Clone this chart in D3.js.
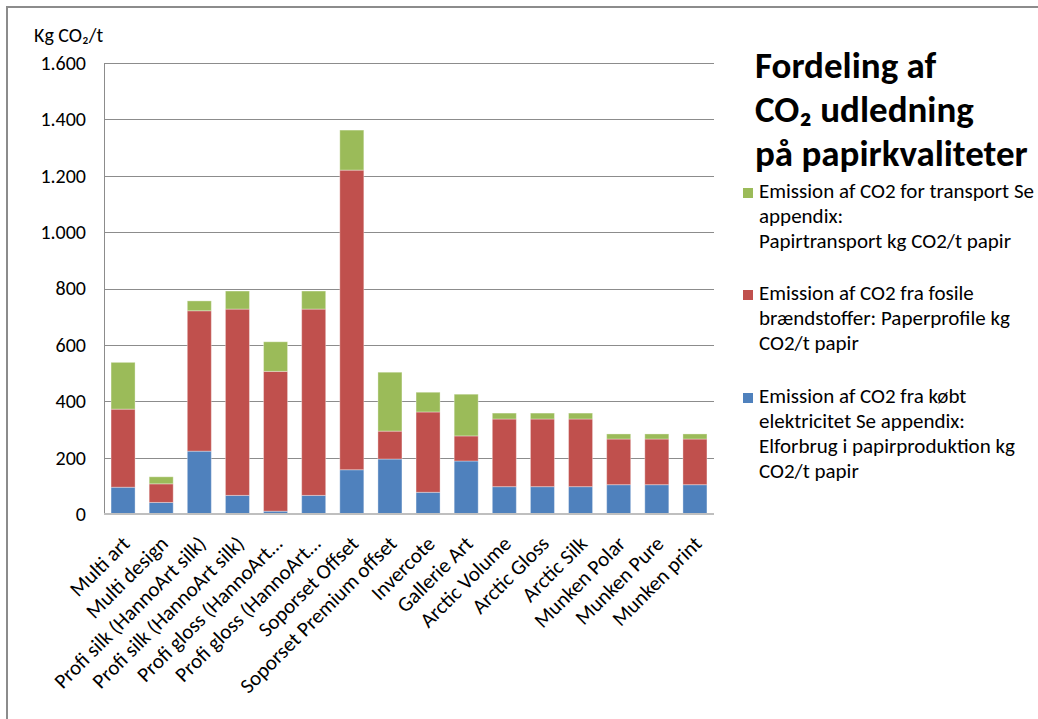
<!DOCTYPE html>
<html>
<head>
<meta charset="utf-8">
<script src="https://cdn.jsdelivr.net/npm/d3@7"></script>
<style>
  body { margin: 0; background: #fff; }
  text { font-family: Carlito, Lato, "Open Sans", sans-serif; fill: #000; }
</style>
</head>
<body>
<svg id="chart"></svg>
<script>
// categories as printed under the axis
const categories = [
    "Multi art", "Multi design", "Profi silk (HannoArt silk)", "Profi silk (HannoArt silk)",
    "Profi gloss (HannoArt\u2026", "Profi gloss (HannoArt\u2026", "Soporset Offset", "Soporset Premium offset",
    "Invercote", "Gallerie Art", "Arctic Volume", "Arctic Gloss", "Arctic Silk",
    "Munken Polar", "Munken Pure", "Munken print"
];

// kg CO2 / t paper
const elektricitet = [95, 41, 223, 66, 10, 66, 157, 195, 77, 188, 97, 97, 97, 104, 104, 104];
const fossile = [277, 66, 498, 661, 496, 661, 1063, 99, 285, 89, 240, 240, 240, 162, 162, 162];
const transport = [166, 25, 35, 64, 105, 64, 142, 209, 70, 148, 21, 21, 21, 18, 18, 18];

const seriesKeys = ["elektricitet", "fossile", "transport"];
const seriesColors = ["#4F81BD", "#C0504D", "#9BBB59"];
const legendLabels = [
    ["Emission af CO2 for transport Se", "appendix:", "Papirtransport kg CO2/t papir"],
    ["Emission af CO2 fra fosile", "brændstoffer: Paperprofile kg", "CO2/t papir"],
    ["Emission af CO2 fra købt", "elektricitet Se appendix:", "Elforbrug i papirproduktion kg", "CO2/t papir"]
];
const legendColors = ["#9BBB59", "#C0504D", "#4F81BD"];
const yTicks = [0, 200, 400, 600, 800, 1000, 1200, 1400, 1600];

const width = 1038, height = 719;
const plot = { left: 104, right: 714, top: 63, bottom: 514 };

const rows = categories.map((c, i) => ({
    idx: i, cat: c,
    elektricitet: elektricitet[i], fossile: fossile[i], transport: transport[i]
}));

const svg = d3.select("#chart").attr("width", width).attr("height", height);

// outer frame (top and left only visible)
svg.append("path")
    .attr("d", `M7,${height} V7 H${width}`)
    .attr("fill", "none").attr("stroke", "#8c8c8c").attr("stroke-width", 2);

const x = d3.scaleBand()
    .domain(d3.range(categories.length))
    .range([plot.left, plot.right])
    .paddingInner(0.37)
    .paddingOuter(0.185);

const y = d3.scaleLinear().domain([0, 1600]).range([plot.bottom, plot.top]);

const locale = d3.formatLocale({ decimal: ",", thousands: ".", grouping: [3], currency: ["", ""] });
const fmt = locale.format(",d");

// gridlines
svg.append("g")
    .selectAll("line")
    .data(yTicks.filter(d => d > 0))
    .join("line")
    .attr("x1", plot.left).attr("x2", plot.right)
    .attr("y1", d => Math.round(y(d)) + 0.5).attr("y2", d => Math.round(y(d)) + 0.5)
    .attr("stroke", "#8c8c8c").attr("stroke-width", 1);

// y axis labels
const yAxis = svg.append("g")
    .attr("transform", `translate(${plot.left},0)`)
    .call(d3.axisLeft(y).tickValues(yTicks).tickFormat(fmt).tickSize(0).tickPadding(18));
yAxis.select(".domain").attr("stroke", "#8c8c8c");
yAxis.selectAll("text").attr("font-size", 20).attr("font-family", "Carlito, Lato, sans-serif").attr("fill", "#000");

// stacked bars
const stack = d3.stack().keys(seriesKeys);
const layers = stack(rows);

svg.append("g")
    .selectAll("g")
    .data(layers)
    .join("g")
    .attr("fill", (d, i) => seriesColors[i])
    .selectAll("rect")
    .data(d => d)
    .join("rect")
    .attr("x", d => x(d.data.idx))
    .attr("width", x.bandwidth())
    .attr("y", d => y(d[1]))
    .attr("height", d => y(d[0]) - y(d[1]))
    .attr("stroke", "#ffffff")
    .attr("stroke-opacity", 0.35)
    .attr("stroke-width", 1);

// x axis baseline
svg.append("line")
    .attr("x1", plot.left).attr("x2", plot.right)
    .attr("y1", plot.bottom).attr("y2", plot.bottom)
    .attr("stroke", "#bfbfbf").attr("stroke-width", 2);

// category labels, rotated
svg.append("g")
    .selectAll("text")
    .data(categories)
    .join("text")
    .attr("transform", (d, i) => `translate(${x(i) + x.bandwidth() / 2 + 8},${plot.bottom + 31}) rotate(-45)`)
    .attr("text-anchor", "end")
    .attr("font-size", 21)
    .text(d => d);

// y unit
svg.append("text")
    .attr("x", 34).attr("y", 42)
    .attr("font-size", 20)
    .text("Kg CO\u2082/t");

// title
const title = svg.append("text")
    .attr("x", 755).attr("y", 78)
    .attr("font-size", 37).attr("font-weight", "bold");
title.append("tspan").attr("x", 755).attr("y", 78).text("Fordeling af");
title.append("tspan").attr("x", 755).attr("y", 122).text("CO\u2082 udledning");
title.append("tspan").attr("x", 755).attr("y", 166).text("på papirkvaliteter");

// legend
const legendTops = [198, 300, 403];
const legend = svg.append("g")
    .selectAll("g")
    .data(legendLabels)
    .join("g");

legend.append("rect")
    .attr("x", 743).attr("y", (d, i) => legendTops[i] - 10)
    .attr("width", 10).attr("height", 10)
    .attr("fill", (d, i) => legendColors[i]);

legend.append("text")
    .attr("font-size", 21)
    .attr("fill", "#222")
    .selectAll("tspan")
    .data((d, i) => d.map((t, j) => ({ t, yy: legendTops[i] + j * 25 })))
    .join("tspan")
    .attr("x", 759)
    .attr("y", d => d.yy)
    .text(d => d.t);
</script>
</body>
</html>
